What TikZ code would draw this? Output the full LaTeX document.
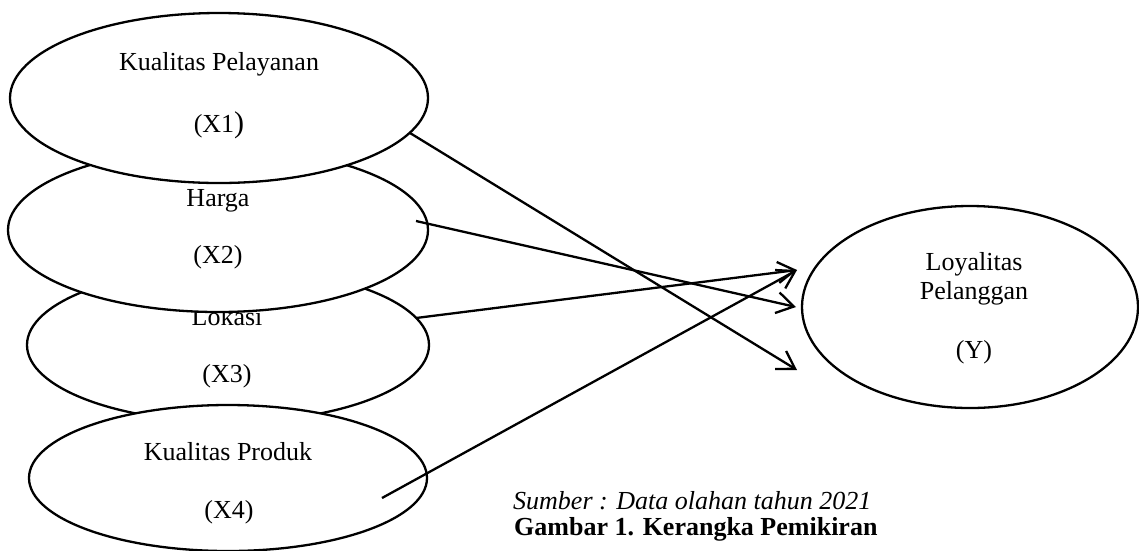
\documentclass[tikz,border=0pt]{standalone}
\usepackage{fontspec}
\setmainfont{Liberation Serif}
\usetikzlibrary{shapes.geometric,arrows.meta}
\tikzset{
  var/.style={ellipse, draw, fill=white, line width=2.3pt, inner sep=0pt},
  lbl/.style={anchor=base, inner sep=0pt, font=\fontsize{26}{30}\selectfont},
  captext/.style={anchor=base west, inner sep=0pt},
  link/.style={line width=2.3pt, -{Straight Barb[length=17pt,width=21pt,line width=2.3pt]}}
}
\begin{document}
\begin{tikzpicture}[x=1pt,y=-1pt]
\useasboundingbox (0,0) rectangle (1139,550);
% X3 first (covered by X2 and X4)
\node[var, minimum width=402pt, minimum height=154pt] (X3) at (228,345) {};
\node[lbl] (t3a) at (227,325) {Lokasi};
\node[lbl] (t3b) at (227,382) {(X3)};
% X2
\node[var, minimum width=420pt, minimum height=164pt] (X2) at (218,230) {};
\node[lbl] (t2a) at (218,206) {Harga};
\node[lbl] (t2b) at (218,263) {(X2)};
% X1
\node[var, minimum width=418pt, minimum height=170pt] (X1) at (219,98) {};
\node[lbl] (t1a) at (219,70) {Kualitas Pelayanan};
\node[lbl] (t1b) at (219,132) {(X1{\fontsize{30}{30}\selectfont)}};
% X4
\node[var, minimum width=398pt, minimum height=146pt] (X4) at (228,478) {};
\node[lbl] (t4a) at (228,460) {Kualitas Produk};
\node[lbl] (t4b) at (229,518) {(X4)};
% Y
\node[var, minimum width=336pt, minimum height=202pt] (Y) at (970,307) {};
\node[lbl] (ya) at (974,270) {Loyalitas};
\node[lbl] (yb) at (974,299) {Pelanggan};
\node[lbl] (yc) at (974,358) {(Y)};
% connector ends
\coordinate (s1) at (410,133);
\coordinate (s2) at (416,221);
\coordinate (s3) at (416,318);
\coordinate (s4) at (382,498);
\coordinate (e1) at (797,370);
\coordinate (e2) at (796,307);
\coordinate (e3) at (797,270);
\draw[link] (s1) -- (e1);
\draw[link] (s2) -- (e2);
\draw[link] (s3) -- (e3);
\draw[link] (s4) -- (e3);
% captions
\node[captext, font=\fontsize{26}{30}\selectfont\itshape] (src) at (513,509) {Sumber : Data olahan tahun 2021};
\node[captext, font=\fontsize{26}{30}\selectfont\bfseries] (ttl) at (514,535) {Gambar 1. Kerangka Pemikiran};
\end{tikzpicture}
\end{document}
